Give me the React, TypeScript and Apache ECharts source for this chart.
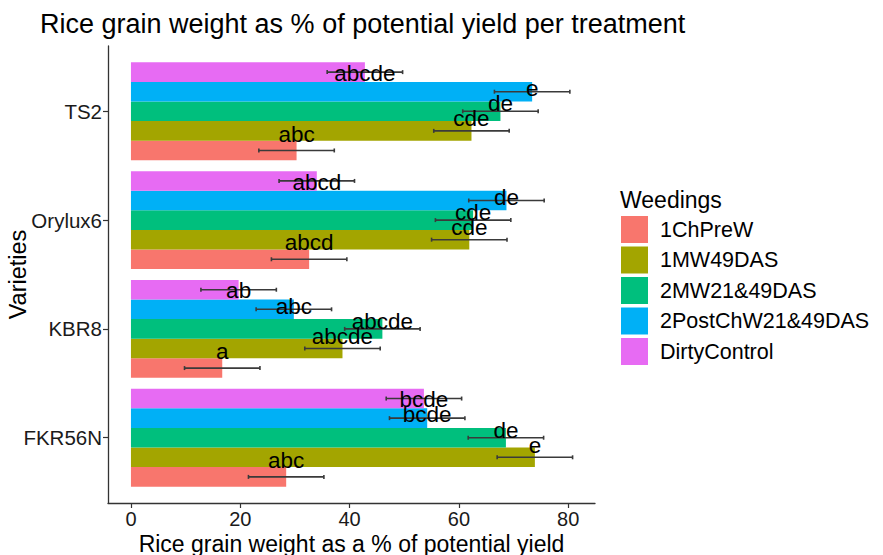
import React, { useEffect, useRef } from 'react';
import * as echarts from 'echarts';

// Varieties from bottom to top of the chart (y value = index + 1)
const varieties = ['FKR56N', 'KBR8', 'Orylux6', 'TS2'];
const treatments = ['1ChPreW', '1MW49DAS', '2MW21&49DAS', '2PostChW21&49DAS', 'DirtyControl'];
const colors = ['#F8766D', '#A3A500', '#00BF7D', '#00B0F6', '#E76BF3'];

// Means (order of varieties above)
const chPreW = [28.4, 16.7, 32.6, 30.3];
const mw49 = [73.9, 38.7, 61.9, 62.3];
const mw2149 = [68.6, 46.0, 62.6, 67.6];
const postCh = [54.2, 29.8, 68.7, 73.4];
const dirty = [53.6, 19.7, 34.0, 42.8];

// Error half-widths
const errChPreW = [6.9, 6.9, 6.9, 6.9];
const errMw49 = [6.9, 6.9, 6.9, 6.9];
const errMw2149 = [6.9, 6.9, 6.9, 6.9];
const errPostCh = [6.9, 6.9, 6.9, 6.9];
const errDirty = [6.9, 6.9, 6.9, 6.9];

// Significance letters
const lettersChPreW = ['abc', 'a', 'abcd', 'abc'];
const lettersMw49 = ['e', 'abcde', 'cde', 'cde'];
const lettersMw2149 = ['de', 'abcde', 'cde', 'de'];
const lettersPostCh = ['bcde', 'abc', 'de', 'e'];
const lettersDirty = ['bcde', 'ab', 'abcd', 'abcde'];

const xTicks = [0, 20, 40, 60, 80];

const means = [chPreW, mw49, mw2149, postCh, dirty];
const errs = [errChPreW, errMw49, errMw2149, errPostCh, errDirty];
const letters = [lettersChPreW, lettersMw49, lettersMw2149, lettersPostCh, lettersDirty];

const FONT = '"Liberation Sans", Arial, Helvetica, sans-serif';
const DODGE = 0.9;
const BAR = DODGE / treatments.length;
const LABEL_DODGE = 0.7;
const LABEL_STEP = LABEL_DODGE / treatments.length;

const barOffset = (t: number) => -DODGE / 2 + BAR * (t + 0.5);
const labelOffset = (t: number) => -LABEL_DODGE / 2 + LABEL_STEP * (t + 0.5) + 0.07;

type Item = { t: number; c: number; m: number; e: number; l: string };
const items: Item[] = [];
treatments.forEach((_, t) => {
  varieties.forEach((__, c) => {
    items.push({ t, c: c + 1, m: means[t][c], e: errs[t][c], l: letters[t][c] });
  });
});

export default function App() {
  const ref = useRef<HTMLDivElement>(null);
  useEffect(() => {
    document.body.style.margin = '0';
    if (!ref.current) return;
    const chart = echarts.init(ref.current, undefined, { renderer: 'svg' });

    const barSeries = treatments.map((name, t) => ({
      name,
      type: 'custom',
      z: 2,
      itemStyle: { color: colors[t] },
      encode: { x: 0, y: 1 },
      data: varieties.map((_, c) => [means[t][c], c + 1]),
      renderItem: (params: any, api: any) => {
        const v = api.value(0);
        const c = api.value(1);
        const off = barOffset(t);
        const p0 = api.coord([0, c + off + BAR / 2]);
        const p1 = api.coord([v, c + off - BAR / 2]);
        return {
          type: 'rect',
          shape: { x: p0[0], y: p0[1], width: p1[0] - p0[0], height: p1[1] - p0[1] },
          style: { fill: colors[t] },
        };
      },
    }));

    const errSeries = {
      name: 'errors',
      type: 'custom',
      z: 3,
      silent: true,
      encode: { x: 0, y: 1 },
      data: items.map((it) => [it.m, it.c, it.e, it.t]),
      renderItem: (params: any, api: any) => {
        const m = api.value(0);
        const c = api.value(1);
        const e = api.value(2);
        const t = api.value(3);
        const y = c + barOffset(t);
        const a = api.coord([m - e, y]);
        const b = api.coord([m + e, y]);
        const st = { stroke: '#3a3a3a', lineWidth: 1.6 };
        return {
          type: 'group',
          children: [
            { type: 'line', shape: { x1: a[0], y1: a[1], x2: b[0], y2: b[1] }, style: st },
            { type: 'line', shape: { x1: a[0], y1: a[1] - 2, x2: a[0], y2: a[1] + 2 }, style: st },
            { type: 'line', shape: { x1: b[0], y1: b[1] - 2, x2: b[0], y2: b[1] + 2 }, style: st },
          ],
        };
      },
    };

    const labelSeries = {
      name: 'letters',
      type: 'custom',
      z: 4,
      silent: true,
      encode: { x: 0, y: 1 },
      data: items.map((it) => [it.m, it.c, it.t]),
      renderItem: (params: any, api: any) => {
        const m = api.value(0);
        const c = api.value(1);
        const t = api.value(2);
        const p = api.coord([m, c + labelOffset(t)]);
        return {
          type: 'text',
          x: p[0],
          y: p[1],
          style: {
            text: items[params.dataIndex].l,
            fill: '#000',
            fontSize: 22.5,
            fontFamily: FONT,
            align: 'center',
            verticalAlign: 'middle',
          },
        };
      },
    };

    const option: any = {
      animation: false,
      backgroundColor: '#fff',
      textStyle: { fontFamily: FONT },
      title: [
        {
          text: 'Rice grain weight as % of potential yield per treatment',
          left: 40,
          top: 10,
          padding: 0,
          textStyle: { fontSize: 27, fontWeight: 'normal', color: '#000', fontFamily: FONT },
        },
        {
          text: 'Weedings',
          left: 620,
          top: 188,
          padding: 0,
          textStyle: { fontSize: 23, fontWeight: 'normal', color: '#000', fontFamily: FONT },
        },
      ],
      legend: {
        data: treatments,
        orient: 'vertical',
        left: 621,
        top: 216,
        padding: 0,
        itemWidth: 27,
        itemHeight: 27,
        itemGap: 3.5,
        icon: 'rect',
        selectedMode: false,
        textStyle: { fontSize: 21.5, color: '#000', fontFamily: FONT, padding: [0, 0, 0, 7] },
      },
      grid: { left: 108, right: 288, top: 46, bottom: 52, containLabel: false, outerBoundsMode: 'none' },
      xAxis: {
        type: 'value',
        min: -4.2,
        max: 84.9,
        axisLine: { show: true, onZero: false, lineStyle: { color: '#333', width: 1.3 } },
        axisTick: { show: true, customValues: xTicks, length: 5, lineStyle: { color: '#333', width: 1.2 } },
        axisLabel: { customValues: xTicks, fontSize: 20, color: '#1a1a1a', margin: 6, fontFamily: FONT },
        splitLine: { show: false },
        name: 'Rice grain weight as a % of potential yield',
        nameLocation: 'middle',
        nameGap: 29,
        nameMoveOverlap: false,
        nameTextStyle: { fontSize: 23, color: '#000', fontFamily: FONT },
      },
      yAxis: {
        type: 'value',
        min: 0.4,
        max: 4.6,
        axisLine: { show: true, onZero: false, lineStyle: { color: '#333', width: 1.3 } },
        axisTick: { show: true, customValues: [1, 2, 3, 4], length: 5, lineStyle: { color: '#333', width: 1.2 } },
        axisLabel: {
          customValues: [1, 2, 3, 4],
          formatter: (v: number) => varieties[Math.round(v) - 1] ?? '',
          fontSize: 20.5,
          color: '#1a1a1a',
          margin: 6,
          fontFamily: FONT,
        },
        splitLine: { show: false },
        name: 'Varieties',
        nameLocation: 'middle',
        nameGap: 78,
        nameMoveOverlap: false,
        nameTextStyle: { fontSize: 23.5, color: '#000', fontFamily: FONT },
      },
      series: [...barSeries, errSeries, labelSeries],
    };
    chart.setOption(option);
    return () => chart.dispose();
  }, []);
  return <div ref={ref} style={{ width: 883, height: 555 }} />;
}
